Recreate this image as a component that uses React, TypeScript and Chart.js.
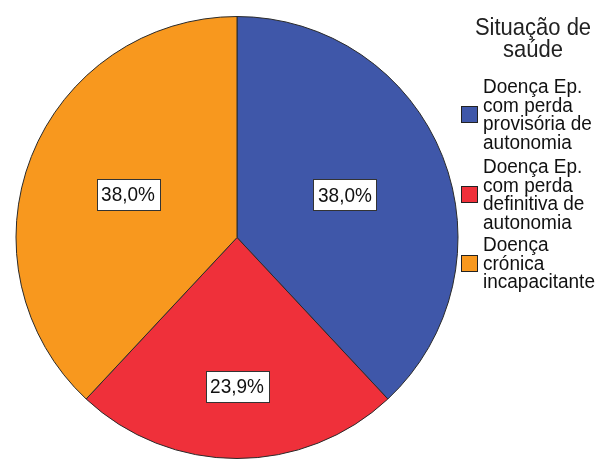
import React, { useEffect, useRef } from "react";
import { Chart, registerables } from "chart.js";

Chart.register(...registerables);

const legendTitle = ["Situação de", "saúde"];
const categories = [
  ["Doença Ep.", "com perda", "provisória de", "autonomia"],
  ["Doença Ep.", "com perda", "definitiva de", "autonomia"],
  ["Doença", "crónica", "incapacitante"],
];
const counts = [35, 22, 35];
const percentLabels = ["38,0%", "23,9%", "38,0%"];
const colors = ["#3F57A9", "#EF303A", "#F8981E"];

const labelRadiusFrac = [0.525, 0.675, 0.53];

function drawText(ctx: CanvasRenderingContext2D, t: string, x: number, y: number, sy = 1.1) {
  ctx.save();
  ctx.translate(x, y);
  ctx.scale(1, sy);
  ctx.fillText(t, 0, 0);
  ctx.restore();
}

const overlayPlugin = {
  id: "overlay",
  afterDatasetsDraw(chart: any) {
    const ctx = chart.ctx as CanvasRenderingContext2D;
    const meta = chart.getDatasetMeta(0);
    ctx.save();
    meta.data.forEach((arc: any, i: number) => {
      const mid = (arc.startAngle + arc.endAngle) / 2;
      const r = arc.outerRadius * labelRadiusFrac[i];
      const x = arc.x + Math.cos(mid) * r;
      const y = arc.y + Math.sin(mid) * r;
      const w = 63;
      const h = 31;
      ctx.fillStyle = "#ffffff";
      ctx.fillRect(Math.round(x - w / 2) + 0.5, Math.round(y - h / 2) + 0.5, w, h);
      ctx.strokeStyle = "#333333";
      ctx.lineWidth = 1;
      ctx.strokeRect(Math.round(x - w / 2) + 0.5, Math.round(y - h / 2) + 0.5, w, h);
      ctx.fillStyle = "#111111";
      ctx.font = "19px 'Liberation Sans', Arial, sans-serif";
      ctx.textAlign = "center";
      ctx.textBaseline = "middle";
      drawText(ctx, percentLabels[i], x, y + 1);
    });

    ctx.fillStyle = "#222222";
    ctx.font = "22px 'Liberation Sans', Arial, sans-serif";
    ctx.textAlign = "center";
    ctx.textBaseline = "middle";
    legendTitle.forEach((t, i) => drawText(ctx, t, 533, 28 + i * 22));

    const lh = 18.5;
    let y0 = 88;
    ctx.font = "19px 'Liberation Sans', Arial, sans-serif";
    ctx.textAlign = "left";
    categories.forEach((lines, i) => {
      lines.forEach((t, j) => {
        ctx.fillStyle = "#111111";
        drawText(ctx, t, 483, y0 + j * lh, 1.05);
      });
      const midY = y0 + ((lines.length - 1) * lh) / 2 - 2;
      ctx.fillStyle = colors[i];
      ctx.fillRect(461.5, Math.round(midY - 8) + 0.5, 16, 16);
      ctx.strokeStyle = "#222222";
      ctx.strokeRect(461.5, Math.round(midY - 8) + 0.5, 16, 16);
      y0 += lines.length * lh + (i === 0 ? 6 : 4);
    });
    ctx.restore();
  },
};

export default function App() {
  const ref = useRef<HTMLCanvasElement>(null);
  useEffect(() => {
    document.body.style.margin = "0";
    const chart = new Chart(ref.current!, {
      type: "pie",
      data: {
        labels: categories.map((c) => c.join(" ")),
        datasets: [
          {
            data: counts,
            backgroundColor: colors,
            borderColor: "#2a2a2a",
            borderWidth: 1,
          },
        ],
      },
      options: {
        responsive: false,
        animation: false,
        layout: { padding: { left: 15, right: 140, top: 16, bottom: 0 } },
        plugins: {
          legend: { display: false },
          tooltip: { enabled: false },
        },
      },
      plugins: [overlayPlugin],
    });
    return () => chart.destroy();
  }, []);
  return <canvas ref={ref} width={599} height={459} style={{ display: "block" }} />;
}
